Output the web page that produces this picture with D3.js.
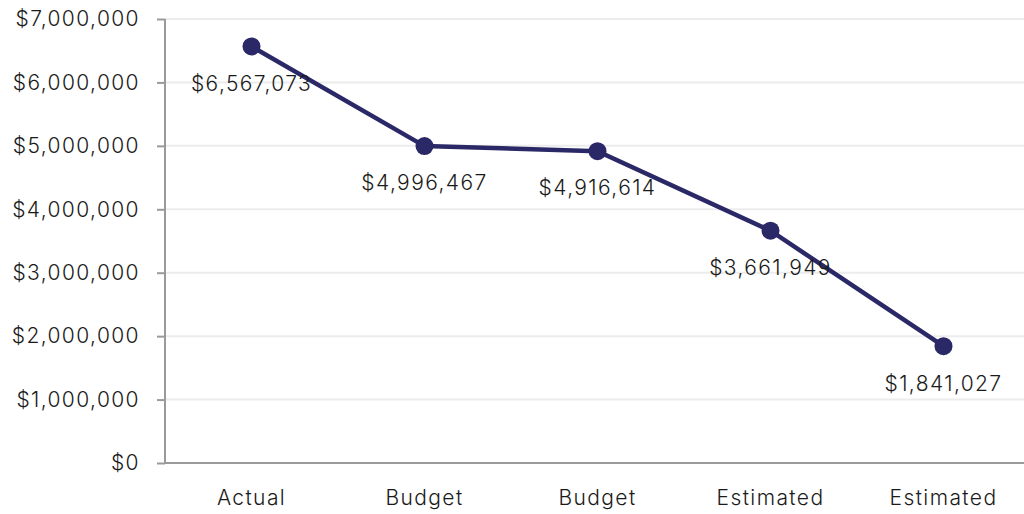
<!DOCTYPE html>
<html>
<head>
<meta charset="utf-8">
<script src="https://cdn.jsdelivr.net/npm/d3@7"></script>
<style>
  html, body { margin: 0; padding: 0; background: #fff; overflow: hidden; }
  svg { display: block; }
  text { font-family: "Inter", "Open Sans", sans-serif; fill: #1a1a1a; font-weight: 300; }
</style>
</head>
<body>
<svg id="chart" width="1024" height="514"></svg>
<script>
// Funding by period
const categories = ["Actual", "Budget", "Budget", "Estimated", "Estimated"];
const values = [6567073, 4996467, 4916614, 3661949, 1841027];
const yTicks = [0, 1000000, 2000000, 3000000, 4000000, 5000000, 6000000, 7000000];

const svg = d3.select("#chart");
const W = 1024, H = 514;
const margin = { left: 165, top: 19, bottom: 51 };
const step = 173;
const LS = 1.4;

const x = d3.scaleBand()
  .domain(d3.range(categories.length))
  .range([margin.left, margin.left + step * categories.length]);

const y = d3.scaleLinear()
  .domain([0, 7000000])
  .range([H - margin.bottom, margin.top]);

const money = d => "$" + d3.format(",")(d);

// horizontal gridlines
svg.append("g")
  .selectAll("line")
  .data(yTicks.filter(d => d > 0))
  .join("line")
  .attr("x1", margin.left)
  .attr("x2", W)
  .attr("y1", d => y(d))
  .attr("y2", d => y(d))
  .attr("stroke", "#ececec")
  .attr("stroke-width", 2);

// y axis
const yAxis = svg.append("g")
  .attr("transform", `translate(${margin.left},0)`)
  .call(d3.axisLeft(y).tickValues(yTicks).tickFormat(money).tickSize(8).tickPadding(17));
yAxis.selectAll("path, line").attr("stroke", "#9a9a9a").attr("stroke-width", 2);
yAxis.select(".domain").attr("d", `M0,${y(7000000)}V${y(0)}`);
yAxis.selectAll("text").attr("font-size", 21).attr("fill", "#1a1a1a")
  .style("font-family", "Inter, sans-serif").style("font-weight", 300).attr("letter-spacing", LS);

// x axis
const xAxis = svg.append("g")
  .attr("transform", `translate(0,${y(0)})`)
  .call(d3.axisBottom(x).tickFormat(i => categories[i]).tickSize(0).tickPadding(27));
xAxis.select(".domain").attr("stroke", "#9a9a9a").attr("stroke-width", 2)
  .attr("d", `M${margin.left},0H${W}`);
xAxis.selectAll("text").attr("font-size", 21).attr("fill", "#1a1a1a")
  .style("font-family", "Inter, sans-serif").style("font-weight", 300).attr("letter-spacing", LS);

const cx = i => x(i) + x.bandwidth() / 2;

// line
svg.append("path")
  .datum(values)
  .attr("fill", "none")
  .attr("stroke", "#2b2868")
  .attr("stroke-width", 4.5)
  .attr("d", d3.line().x((d, i) => cx(i)).y(d => y(d)));

// points
svg.append("g")
  .selectAll("circle")
  .data(values)
  .join("circle")
  .attr("cx", (d, i) => cx(i))
  .attr("cy", d => y(d))
  .attr("r", 9)
  .attr("fill", "#2b2868");

// value labels
svg.append("g")
  .selectAll("text")
  .data(values)
  .join("text")
  .attr("x", (d, i) => cx(i))
  .attr("y", d => y(d) + 37)
  .attr("dy", "0.35em")
  .attr("text-anchor", "middle")
  .attr("font-size", 21)
  .attr("letter-spacing", LS)
  .text(d => money(d));
</script>
</body>
</html>
